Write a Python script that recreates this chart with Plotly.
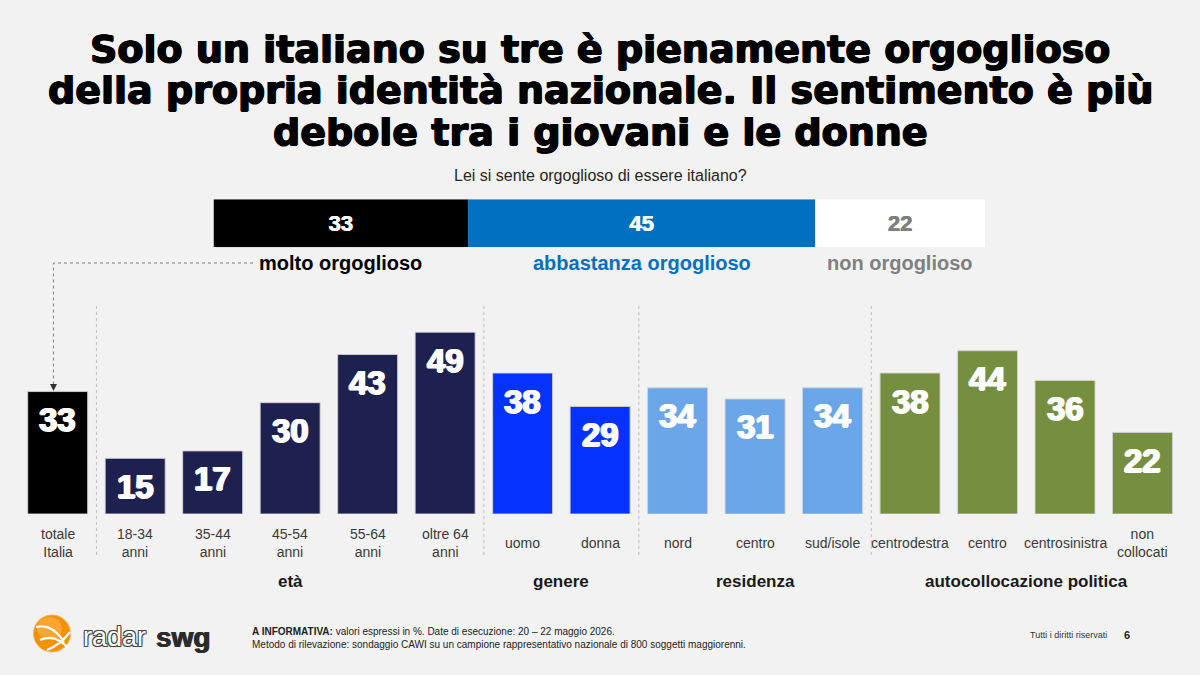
import plotly.graph_objects as go

W, H = 1200, 675

# ---------------- data ----------------
question = "Lei si sente orgoglioso di essere italiano?"
overall_labels = ["molto orgoglioso", "abbastanza orgoglioso", "non orgoglioso"]
overall_values = [33, 45, 22]

categories = ["totale<br>Italia", "18-34<br>anni", "35-44<br>anni", "45-54<br>anni",
              "55-64<br>anni", "oltre 64<br>anni", "uomo", "donna", "nord", "centro",
              "sud/isole", "centrodestra", "centro", "centrosinistra", "non<br>collocati"]
values = [33, 15, 17, 30, 43, 49, 38, 29, 34, 31, 34, 38, 44, 36, 22]
groups = ["", "età", "età", "età", "età", "età", "genere", "genere",
          "residenza", "residenza", "residenza",
          "autocollocazione politica", "autocollocazione politica",
          "autocollocazione politica", "autocollocazione politica"]

title_lines = ["Solo un italiano su tre è pienamente orgoglioso",
               "della propria identità nazionale. Il sentimento è più",
               "debole tra i giovani e le donne"]

# ---------------- style ----------------
group_colors = {"": "#000000", "età": "#1E2050", "genere": "#0632FF",
                "residenza": "#6BA6E8", "autocollocazione politica": "#768E3F"}
overall_colors = ["#000000", "#0070C0", "#FFFFFF"]
overall_text_colors = ["#FFFFFF", "#FFFFFF", "#7F7F7F"]
overall_label_colors = ["#000000", "#0070C0", "#808080"]
BG = "#F2F2F2"
SANS = "Liberation Sans, Arial, sans-serif"


def px(x):
    return x / W


def py(y):
    return 1 - y / H


BASE_Y = 514.0
SCALE = 3.71
YMAX = 60
top_px = BASE_Y - YMAX * SCALE

fig = go.Figure()

idx = list(range(len(values)))
fig.add_trace(go.Bar(
    x=idx, y=values, width=0.774,
    marker=dict(color=[group_colors[g] for g in groups],
                line=dict(color="rgba(210,210,210,0.9)", width=1)),
    hoverinfo="skip", showlegend=False, xaxis="x", yaxis="y"))

cum = 0
for lab, v, c, tc in zip(overall_labels, overall_values, overall_colors, overall_text_colors):
    fig.add_trace(go.Bar(
        x=[v], y=[0], orientation="h", width=1, base=cum,
        marker=dict(color=c, line=dict(width=0)),
        text=[str(v)], textposition="inside", insidetextanchor="middle",
        textfont=dict(family=SANS, size=22, color=tc, weight="bold",
                      shadow="0.4px 0 0 %s, -0.4px 0 0 %s" % (tc, tc)),
        hoverinfo="skip", showlegend=False, xaxis="x2", yaxis="y2"))
    cum += v

ann = []
shapes = []

# title
title_y = [49, 90, 132]
for t, yy in zip(title_lines, title_y):
    ann.append(dict(text=t, x=0.5, y=py(yy), xref="paper", yref="paper",
                    xanchor="center", yanchor="middle", showarrow=False,
                    font=dict(family="DejaVu Sans, sans-serif", size=38, color="#000000",
                              weight="bold",
                              shadow="0.8px 0 0 #000, -0.8px 0 0 #000, 0 0.6px 0 #000, 0 -0.4px 0 #000")))

ann.append(dict(text=question, x=0.5, y=py(175), xref="paper", yref="paper",
                xanchor="center", yanchor="middle", showarrow=False,
                font=dict(family=SANS, size=16, color="#262626")))

# labels under the stacked bar
cum = 0
for lab, v, c in zip(overall_labels, overall_values, overall_label_colors):
    ann.append(dict(text="<b>%s</b>" % lab, x=cum + v / 2, y=py(263), xref="x2", yref="paper",
                    xanchor="center", yanchor="middle", showarrow=False,
                    font=dict(family=SANS, size=20, color=c)))
    cum += v

# value labels in bars
for i, v in zip(idx, values):
    ann.append(dict(text="<b>%d</b>" % v, x=i, y=v, xref="x", yref="y",
                    xanchor="center", yanchor="middle", yshift=-28, showarrow=False,
                    font=dict(family=SANS, size=33, color="#FFFFFF",
                              shadow="1px 0 0 #fff, -1px 0 0 #fff, 0 0.6px 0 #fff")))

# category labels
for i, c in zip(idx, categories):
    ann.append(dict(text=c, x=i, y=py(543), xref="x", yref="paper",
                    xanchor="center", yanchor="middle", showarrow=False,
                    font=dict(family=SANS, size=14, color="#3A3A3A")))

# group labels and separators
seen = []
for g in groups:
    if g and g not in seen:
        seen.append(g)
for g in seen:
    members = [i for i in idx if groups[i] == g]
    ann.append(dict(text="<b>%s</b>" % g, x=sum(members) / len(members), y=py(581),
                    xref="x", yref="paper", xanchor="center", yanchor="middle",
                    showarrow=False, font=dict(family=SANS, size=17, color="#1A1A1A")))
for i in idx[1:]:
    if groups[i] != groups[i - 1]:
        shapes.append(dict(type="line", xref="x", yref="paper", x0=i - 0.5, x1=i - 0.5,
                           y0=py(306), y1=py(558),
                           line=dict(color="#BDBDBD", width=1, dash="dot")))

# connector from legend to total bar
shapes.append(dict(type="path", xref="paper", yref="paper",
                   path="M %f,%f L %f,%f L %f,%f" % (px(253), py(263), px(53.5), py(263),
                                                      px(53.5), py(385)),
                   line=dict(color="#808080", width=1, dash="dot")))
shapes.append(dict(type="path", xref="paper", yref="paper",
                   path="M %f,%f L %f,%f L %f,%f Z" % (px(50), py(384), px(57), py(384),
                                                        px(53.5), py(391)),
                   fillcolor="#333333", line=dict(width=0)))

# logo
shapes.append(dict(type="circle", xref="paper", yref="paper",
                   x0=px(33.5), x1=px(70.5), y0=py(652), y1=py(615),
                   fillcolor="#F39200", line=dict(color="#F6B25A", width=1)))
shapes.append(dict(type="circle", xref="paper", yref="paper",
                   x0=px(37), x1=px(62), y0=py(640), y1=py(617),
                   fillcolor="#F8A531", line=dict(width=0)))
for a, b, c2 in [((36, 627), (52, 623), (64, 642)),
                 ((40, 640), (55, 633), (68, 648)),
                 ((47, 650), (60, 645), (70, 632))]:
    shapes.append(dict(type="path", xref="paper", yref="paper",
                       path="M %f,%f Q %f,%f %f,%f" % (px(a[0]), py(a[1]), px(b[0]), py(b[1]),
                                                       px(c2[0]), py(c2[1])),
                       line=dict(color="#FFFFFF", width=2.2)))
ann.append(dict(text="radar", x=px(81), y=py(637), xref="paper", yref="paper",
                xanchor="left", yanchor="middle", showarrow=False,
                font=dict(family=SANS, size=27, color="#FFFFFF",
                          shadow="1px 1px 0 #444, -1px -1px 0 #444, 1px -1px 0 #444, -1px 1px 0 #444")))
ann.append(dict(text="<b>swg</b>", x=px(154), y=py(637), xref="paper", yref="paper",
                xanchor="left", yanchor="middle", showarrow=False,
                font=dict(family=SANS, size=28, color="#2B2B2B",
                          shadow="0.6px 0 0 #2B2B2B, -0.6px 0 0 #2B2B2B")))

# footnotes
ann.append(dict(text="<b>A INFORMATIVA:</b> valori espressi in %. Date di esecuzione: 20 – 22 maggio 2026."
                     "<br>Metodo di rilevazione: sondaggio CAWI su un campione rappresentativo nazionale di 800 soggetti maggiorenni.",
                x=px(250), y=py(638), xref="paper", yref="paper", xanchor="left", yanchor="middle",
                align="left", showarrow=False, font=dict(family=SANS, size=10, color="#222222")))
ann.append(dict(text="Tutti i diritti riservati", x=px(1028), y=py(635), xref="paper", yref="paper",
                xanchor="left", yanchor="middle", showarrow=False,
                font=dict(family=SANS, size=9, color="#333333")))
ann.append(dict(text="<b>6</b>", x=px(1127), y=py(635), xref="paper", yref="paper",
                xanchor="center", yanchor="middle", showarrow=False,
                font=dict(family=SANS, size=11, color="#222222")))

fig.update_layout(
    width=W, height=H, margin=dict(l=0, r=0, t=0, b=0),
    paper_bgcolor=BG, plot_bgcolor=BG, barmode="overlay",
    xaxis=dict(domain=[px(18.95), px(1181.25)], range=[-0.5, len(values) - 0.5],
               visible=False, fixedrange=True),
    yaxis=dict(domain=[py(BASE_Y), py(top_px)], range=[0, YMAX], visible=False, fixedrange=True),
    xaxis2=dict(domain=[px(213.5), px(985)], range=[0, 100], visible=False, anchor="y2"),
    yaxis2=dict(domain=[py(247.3), py(199.3)], range=[-0.5, 0.5], visible=False, anchor="x2"),
    annotations=ann, shapes=shapes, showlegend=False,
)

fig.write_html("out.html")
